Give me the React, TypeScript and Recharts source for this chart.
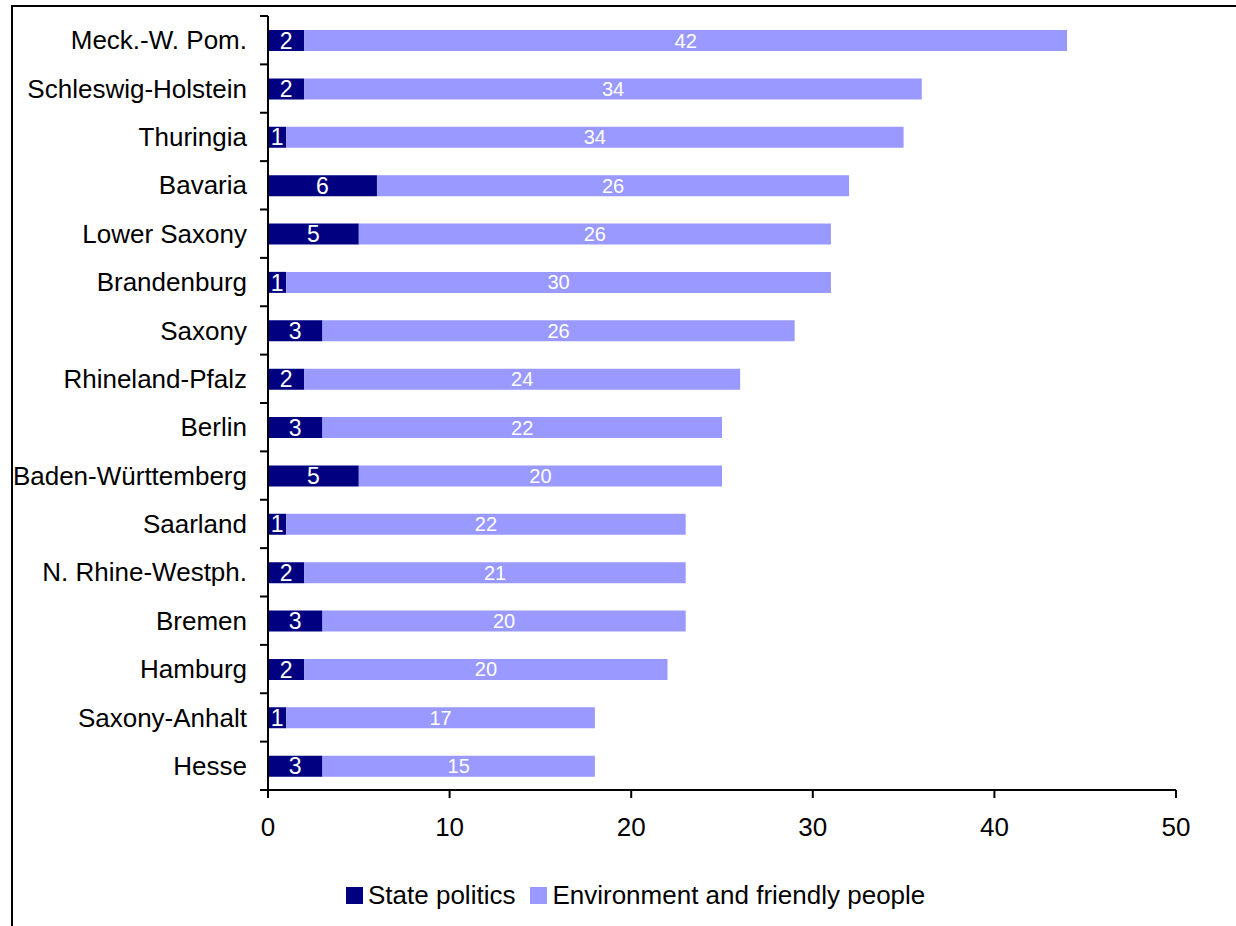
import React from 'react';
import { BarChart, Bar, XAxis, YAxis, Legend, LabelList } from 'recharts';

const categories = [
  'Meck.-W. Pom.', 'Schleswig-Holstein', 'Thuringia', 'Bavaria', 'Lower Saxony', 'Brandenburg',
  'Saxony', 'Rhineland-Pfalz', 'Berlin', 'Baden-Württemberg', 'Saarland', 'N. Rhine-Westph.',
  'Bremen', 'Hamburg', 'Saxony-Anhalt', 'Hesse',
];
const statePolitics = [2, 2, 1, 6, 5, 1, 3, 2, 3, 5, 1, 2, 3, 2, 1, 3];
const environment = [42, 34, 34, 26, 26, 30, 26, 24, 22, 20, 22, 21, 20, 20, 17, 15];
const xTicks = [0, 10, 20, 30, 40, 50];
const seriesNames = ['State politics', 'Environment and friendly people'];

const data = categories.map((name, i) => ({
  name,
  state: statePolitics[i],
  env: environment[i],
}));

const W = 1236;
const H = 926;
const TOP = 16;
const PLOT_BOTTOM = 790;
const BAND = (PLOT_BOTTOM - TOP) / categories.length;
const Y_TICK_MARGIN = 21;

const YTick = (props: any) => {
  const { x, y, payload, index } = props;
  const axisX = x + Y_TICK_MARGIN;
  const half = BAND / 2;
  return (
    <g>
      <line x1={axisX - 8} x2={axisX} y1={y - half} y2={y - half} stroke="#000" strokeWidth={2} />
      {index === categories.length - 1 && (
        <line x1={axisX - 8} x2={axisX} y1={y + half} y2={y + half} stroke="#000" strokeWidth={2} />
      )}
      <text x={x} y={y} dy="0.35em" textAnchor="end" fontSize={26} fill="#000">
        {payload.value}
      </text>
    </g>
  );
};

const LegendContent = (props: any) => {
  const payload = [...(props.payload || [])].sort(
    (a: any, b: any) => seriesNames.indexOf(a.value) - seriesNames.indexOf(b.value)
  );
  return (
    <div style={{ display: 'flex', alignItems: 'center', fontSize: 26, color: '#000', whiteSpace: 'nowrap' }}>
      {payload.map((p: any, i: number) => (
        <div key={i} style={{ display: 'flex', alignItems: 'center', marginRight: 15 }}>
          <div style={{ width: 17, height: 17, background: p.color, marginRight: 5 }} />
          <span style={{ lineHeight: '30px' }}>{p.value}</span>
        </div>
      ))}
    </div>
  );
};

export default function App() {
  return (
    <div
      style={{
        position: 'absolute',
        left: 0,
        top: 0,
        width: W,
        height: H,
        overflow: 'hidden',
        background: '#fff',
        fontFamily: '"Liberation Sans", Arial, sans-serif',
      }}
    >
      <div
        style={{
          position: 'absolute',
          left: 11,
          top: 5,
          width: 1400,
          height: 1100,
          border: '2px solid #000',
        }}
      />
      <div style={{ position: 'absolute', left: 0, top: 0 }}>
        <BarChart
          width={W}
          height={H}
          data={data}
          layout="vertical"
          margin={{ top: TOP, right: 60, left: 0, bottom: H - PLOT_BOTTOM - 60 }}
        >
          <XAxis
            type="number"
            domain={[0, 50]}
            ticks={xTicks}
            interval={0}
            height={60}
            tickSize={8}
            tickMargin={20}
            axisLine={{ stroke: '#000', strokeWidth: 2 }}
            tickLine={{ stroke: '#000', strokeWidth: 2 }}
            tick={{ fill: '#000', fontSize: 26 }}
          />
          <YAxis
            type="category"
            dataKey="name"
            width={268}
            interval={0}
            tickSize={0}
            tickMargin={Y_TICK_MARGIN}
            tickLine={false}
            axisLine={{ stroke: '#000', strokeWidth: 2 }}
            tick={<YTick />}
          />
          <Legend
            layout="horizontal"
            verticalAlign="middle"
            align="center"
            content={<LegendContent />}
            wrapperStyle={{ top: 880, left: 346, width: 'auto' }}
          />
          <Bar dataKey="state" name={seriesNames[0]} stackId="a" fill="#000080" barSize={21} isAnimationActive={false}>
            <LabelList dataKey="state" position="center" fill="#fff" fontSize={23} />
          </Bar>
          <Bar dataKey="env" name={seriesNames[1]} stackId="a" fill="#9999FF" barSize={21} isAnimationActive={false}>
            <LabelList dataKey="env" position="center" fill="#fff" fontSize={20} />
          </Bar>
        </BarChart>
      </div>
    </div>
  );
}
